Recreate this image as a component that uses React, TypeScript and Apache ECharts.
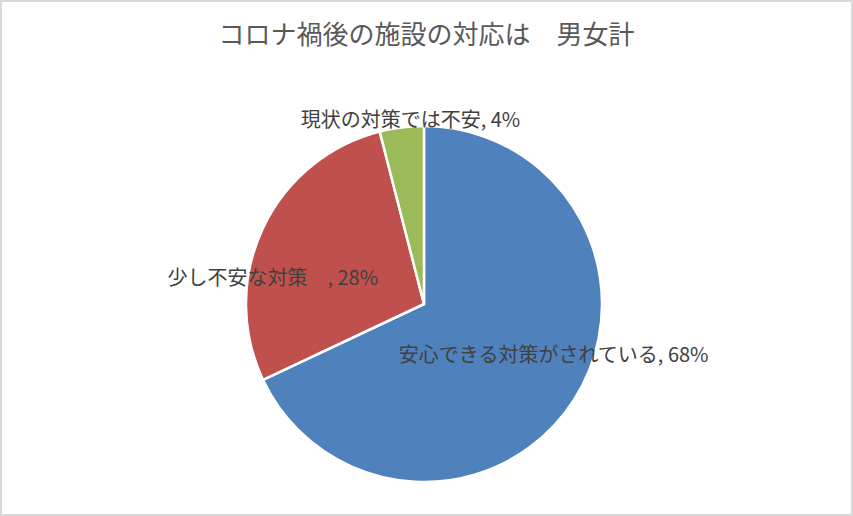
import { useEffect, useRef } from "react";
import * as echarts from "echarts";

const TITLE = "コロナ禍後の施設の対応は　男女計";
const CATEGORIES = ["安心できる対策がされている", "少し不安な対策　", "現状の対策では不安"];
const VALUES = [68, 28, 4];
const COLORS = ["#4F81BD", "#C0504D", "#9BBB59"];
// label offsets from the slice's inside anchor (Excel "best fit" placement)
const LABEL_DX = [52, -68, -2];
const LABEL_DY = [0, 12, -94];

const FONT = '"Noto Sans CJK JP", "Noto Sans", sans-serif';

export default function App() {
  const ref = useRef<HTMLDivElement>(null);

  useEffect(() => {
    const el = ref.current;
    if (!el) return;
    const chart = echarts.init(el, undefined, { renderer: "svg" });
    chart.setOption({
      animation: false,
      backgroundColor: "#ffffff",
      textStyle: { fontFamily: FONT },
      title: {
        text: TITLE,
        left: "center",
        top: 14,
        textStyle: { color: "#595959", fontSize: 26, fontWeight: "normal", fontFamily: FONT },
      },
      graphic: [
        {
          type: "rect",
          silent: true,
          shape: { x: 1, y: 1, width: 851, height: 514 },
          style: { fill: "none", stroke: "#d9d9d9", lineWidth: 2 },
        },
      ],
      series: [
        {
          type: "pie",
          center: [424, 304],
          radius: 178,
          startAngle: 90,
          clockwise: true,
          avoidLabelOverlap: false,
          emphasis: { disabled: true },
          itemStyle: { borderColor: "#ffffff", borderWidth: 2.5 },
          label: {
            position: "inside",
            color: "#404040",
            fontSize: 20,
            fontFamily: FONT,
            formatter: (p: { name: string; value: number }) => `${p.name}, ${p.value}%`,
          },
          labelLine: { show: false },
          labelLayout: (p: { dataIndex: number }) => ({
            dx: LABEL_DX[p.dataIndex],
            dy: LABEL_DY[p.dataIndex],
          }),
          data: CATEGORIES.map((name, i) => ({
            name,
            value: VALUES[i],
            itemStyle: { color: COLORS[i] },
          })),
        },
      ],
    });
    return () => chart.dispose();
  }, []);

  return (
    <div
      ref={ref}
      style={{ position: "fixed", left: 0, top: 0, width: 853, height: 516 }}
    />
  );
}
